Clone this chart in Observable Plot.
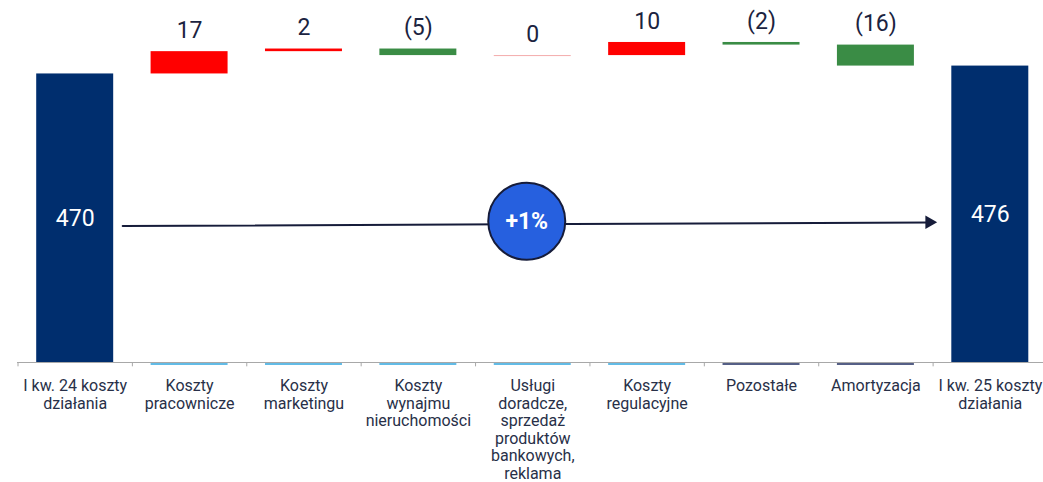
<!DOCTYPE html>
<html>
<head>
<meta charset="utf-8">
<script src="https://cdn.jsdelivr.net/npm/d3@7"></script>
<script src="https://cdn.jsdelivr.net/npm/@observablehq/plot@0.6"></script>
<style>
  html, body { margin: 0; padding: 0; background: #fff; }
</style>
</head>
<body>
<div id="chart"></div>
<script>
// Cost bridge, Q1 2024 -> Q1 2025 (PLN m)
const categories = [
  "I kw. 24 koszty\ndziałania",
  "Koszty\npracownicze",
  "Koszty\nmarketingu",
  "Koszty\nwynajmu\nnieruchomości",
  "Usługi\ndoradcze,\nsprzedaż\nproduktów\nbankowych,\nreklama",
  "Koszty\nregulacyjne",
  "Pozostałe",
  "Amortyzacja",
  "I kw. 25 koszty\ndziałania"
];
const totalValues = [470, 476];
const changes = [17, 2, -5, 0, 10, -2, -16];
const changeLabel = "+1%";

// colours
const navy = "#002e6e";
const ink = "#161c3a";
const red = "#ff0000";
const green = "#3a8c45";
const zeroPink = "#f4abab";
const baseBlue = "#2ea4de";
const circleBlue = "#2660df";

// running totals for the floating bars
let running = totalValues[0];
const steps = changes.map((value, i) => {
  const start = running;
  running += value;
  return {cat: categories[i + 1], index: i + 1, value, start, end: running};
});
const totals = [
  {cat: categories[0], value: totalValues[0]},
  {cat: categories[categories.length - 1], value: totalValues[1]}
];

// the value axis is cut: bars rise from yMin, not from zero
const yMin = 250, yMax = 526;
const fmt = v => v < 0 ? `(${-v})` : `${v}`;
const xRange = [17.5, 1047];
const step = (xRange[1] - xRange[0]) / categories.length;
const mid = v => (yMin + v) / 2;

const chart = Plot.plot({
  width: 1043,
  height: 482,
  marginLeft: 17,
  marginRight: 0,
  marginTop: 0,
  marginBottom: 120,
  style: {background: "#fff", fontFamily: "Roboto, 'Liberation Sans', sans-serif", overflow: "visible"},
  x: {domain: categories, range: xRange, paddingInner: 0.327, paddingOuter: 0.1635, round: false, axis: null},
  y: {domain: [yMin, yMax], range: [362, 0], axis: null},
  marks: [
    // baseline and category separators
    Plot.ruleY([yMin], {stroke: "#a8a8a8", strokeWidth: 1.2}),
    Plot.ruleX(categories, {x: d => d, y1: yMin, y2: yMin - 3.3, dx: -step / 2, stroke: "#a8a8a8", strokeWidth: 1}),
    // base stubs under the floating bars
    Plot.tickY(steps, {x: "cat", y: yMin, dy: 1.5, stroke: d => d.index >= 6 ? "#1c2a5e" : baseBlue, strokeWidth: 1.3}),
    // opening and closing totals
    Plot.barY(totals, {x: "cat", y1: yMin, y2: "value", fill: navy}),
    Plot.text(totals, {x: "cat", y: d => mid(d.value), text: d => `${d.value}`, fill: "#fff", fontSize: 23}),
    // changes
    Plot.barY(steps.filter(d => d.value !== 0), {x: "cat", y1: "start", y2: "end", fill: d => d.value > 0 ? red : green}),
    Plot.tickY(steps.filter(d => d.value === 0), {x: "cat", y: "end", stroke: zeroPink, strokeWidth: 1}),
    Plot.text(steps, {x: "cat", y: d => Math.max(d.start, d.end), dy: -21, text: d => fmt(d.value), fill: "#1b2340", fontSize: 23}),
    // overall change arrow
    Plot.arrow([totals], {
      x1: d => d[0].cat, y1: d => mid(d[0].value),
      x2: d => d[1].cat, y2: d => mid(d[1].value),
      dy: 8, insetStart: 47.5, insetEnd: 60, headLength: 0,
      stroke: ink, strokeWidth: 2
    }),
    Plot.dot([totals[1]], {x: "cat", y: d => mid(d.value), dx: -61, dy: 8, symbol: "triangle2", r: 6.5, rotate: 90, fill: ink}),
    Plot.dot([totals], {x: () => categories[4], y: d => mid((d[0].value + d[1].value) / 2), dx: -6, dy: 5, r: 38.5, fill: circleBlue, stroke: ink, strokeWidth: 2}),
    Plot.text([totals], {x: () => categories[4], y: d => mid((d[0].value + d[1].value) / 2), dx: -6, dy: 5, text: () => changeLabel, fill: "#fff", fontSize: 23, fontWeight: "bold"}),
    // category labels
    Plot.text(categories, {x: d => d, y: yMin, dy: 16, text: d => d, lineAnchor: "top", lineHeight: 1.1, fontSize: 16, fill: "#283048"})
  ]
});
document.getElementById("chart").appendChild(chart);
</script>
</body>
</html>
